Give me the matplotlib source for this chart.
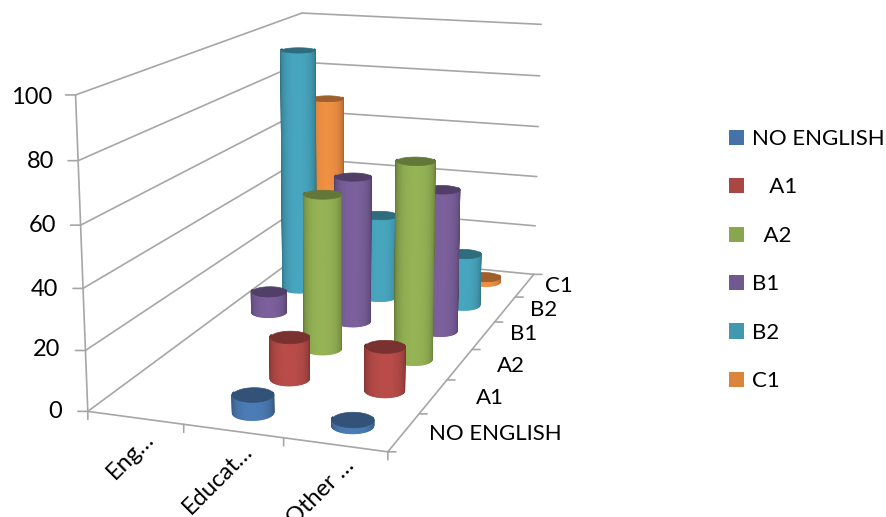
import numpy as np
import matplotlib
matplotlib.use("Agg")
import matplotlib.pyplot as plt
from matplotlib.patches import Patch
from matplotlib.colors import to_rgb
from mpl_toolkits.mplot3d import proj3d
from mpl_toolkits.mplot3d.art3d import Poly3DCollection

# Share of respondents per English level, one list per level, across the three groups
categories = ["Eng…", "Educat…", "Other …"]
levels = ["NO ENGLISH", "A1", "A2", "B1", "B2", "C1"]
legend_labels = ["NO ENGLISH", "   A1", "  A2", "B1", "B2", "C1"]
no_english = [0, 6, 2]
a1 = [0, 14.5, 15]
a2 = [0, 55, 69]
b1 = [8, 54, 52]
b2 = [93, 32, 20]
c1 = [69, 0, 2]
series = [no_english, a1, a2, b1, b2, c1]
colors = ["#4572A7", "#AA4643", "#89A54E", "#71588F", "#4198AF", "#DB843D"]
z_ticks = [0, 20, 40, 60, 80, 100]

W, H = 887, 517
plt.rcParams["font.family"] = ["Lato", "DejaVu Sans"]
FS = 16
FS_AXIS = 17

fig = plt.figure(figsize=(W / 100, H / 100), dpi=100, facecolor="white")
side = 664.04
ax = fig.add_axes([-2.91 / W, -21.72 / H, side / W, side / H], projection="3d")
ax.set_xlim(0, 3, view_margin=0)
ax.set_ylim(0, 6, view_margin=0)
ax.set_zlim(0, 100, view_margin=0)
ELEV, AZIM = 13.98, -70.74
ax.view_init(elev=ELEV, azim=AZIM)
ax.set_box_aspect((0.97964, 1.92119, 1.0))
ax.set_proj_type("persp", focal_length=0.4641)
ax.set_axis_off()
ax.computed_zorder = False

GRID = "#a6a6a6"


def line3d(p, q):
    ax.plot([p[0], q[0]], [p[1], q[1]], [p[2], q[2]], color=GRID, lw=1.2, zorder=1,
            solid_capstyle="round")


for z in z_ticks:
    line3d((0, 0, z), (0, 6, z))
    line3d((0, 6, z), (3, 6, z))
line3d((0, 0, 0), (0, 0, 100))
line3d((0, 0, 0), (3, 0, 0))
line3d((3, 0, 0), (3, 6, 0))

# Tick marks have a fixed length on screen, so they are placed from projected positions
M = ax.get_proj()


def tick(p, dx, dy):
    vx, vy, _ = proj3d.proj_transform(p[0], p[1], p[2], M)
    ax.annotate("", xy=(vx, vy), xycoords="data", xytext=(dx, dy), textcoords="offset pixels",
                annotation_clip=False,
                arrowprops=dict(arrowstyle="-", color=GRID, lw=1.2, shrinkA=0, shrinkB=0))


for z in z_ticks:
    tick((0, 0, z), -10, 0)
for x in range(4):
    tick((x, 0, 0), 0, -8)
for y in range(7):
    tick((3, y, 0), 8, 0)

# Cylinders, furthest from the camera first
RX = 0.195
RY = RX * (0.97964 / 3) / (1.92119 / 6)
cam = np.array([np.cos(np.radians(AZIM)), np.sin(np.radians(AZIM))])
theta = np.linspace(0, 2 * np.pi, 61)


def shade(rgb, f):
    return tuple(min(1.0, c * f) for c in rgb) + (1.0,)


def cylinder(xc, yc, h, color, zo):
    rgb = to_rgb(color)
    px = RX * np.cos(theta)
    py = RY * np.sin(theta)
    facets, fcols = [], []
    for i in range(len(theta) - 1):
        tm = 0.5 * (theta[i] + theta[i + 1])
        d = np.cos(tm) * cam[0] + np.sin(tm) * cam[1]
        if d < -0.3:
            continue
        facets.append([(xc + px[i], yc + py[i], 0), (xc + px[i + 1], yc + py[i + 1], 0),
                       (xc + px[i + 1], yc + py[i + 1], h), (xc + px[i], yc + py[i], h)])
        fcols.append(shade(rgb, 0.64 + 0.45 * max(d, 0) ** 0.7))
    wall = Poly3DCollection(facets, facecolors=fcols, edgecolors=fcols, linewidths=1.0, zorder=zo)
    ax.add_collection3d(wall)
    cap_col = shade(rgb, 0.72)
    cap = Poly3DCollection([list(zip(xc + px, yc + py, np.full_like(px, h)))],
                           facecolors=[cap_col], edgecolors=[cap_col],
                           linewidths=0.5, zorder=zo + 0.5)
    ax.add_collection3d(cap)


bars = []
for j, values in enumerate(series):
    for i, v in enumerate(values):
        if v > 0:
            bars.append((i + 0.5, j + 0.5, v, colors[j]))
bars.sort(key=lambda b: (b[0] * 0.98 / 3) * cam[0] + (b[1] * 1.92 / 6) * cam[1])
for k, (xc, yc, v, col) in enumerate(bars):
    cylinder(xc, yc, v, col, 2 + k)

# Value axis labels
for z, xr, yc in zip(z_ticks, [62, 60, 58, 56, 54, 52], [411, 350, 289, 226, 162, 97]):
    fig.text(xr / W, 1 - yc / H, str(z), ha="right", va="center", fontsize=FS_AXIS, color="black")

# Category labels along the front edge
for lab, xr, yr in zip(categories, [150, 249, 351], [436, 448, 462]):
    fig.text(xr / W, 1 - yr / H, lab, rotation=45, rotation_mode="anchor", ha="right", va="center",
             fontsize=FS_AXIS, color="black")

# Depth labels along the right edge
for lab, xl, yc in zip(levels, [429, 476, 497, 510, 530, 545], [433.5, 398.5, 366.5, 334.5, 310.5, 286.5]):
    fig.text(xl / W, 1 - yc / H, lab, ha="left", va="center", fontsize=FS, color="black")

handles = [Patch(facecolor=c, edgecolor="none") for c in colors]
fig.legend(handles, legend_labels, loc="upper left", bbox_to_anchor=(729 / W, 1 - 129 / H),
           bbox_transform=fig.transFigure, frameon=False, fontsize=FS, borderaxespad=0, borderpad=0,
           handlelength=0.675, handleheight=0.675, handletextpad=0.36, labelspacing=1.28)

fig.savefig("out.png", dpi=100, facecolor="white")
